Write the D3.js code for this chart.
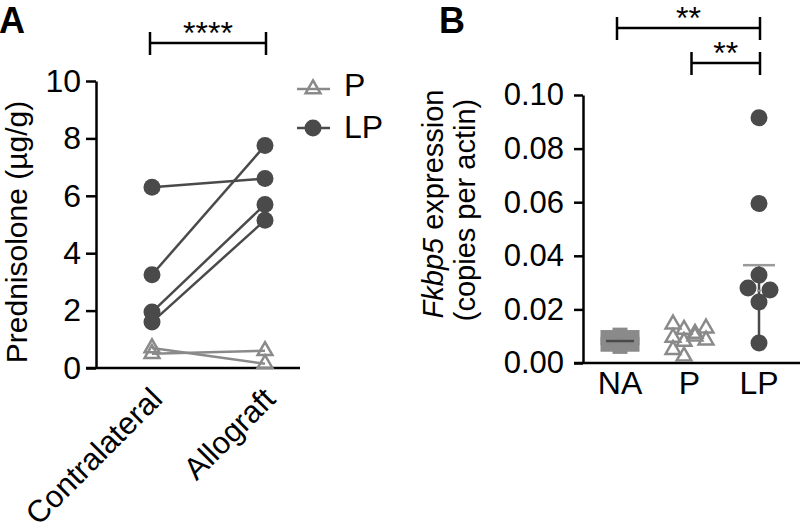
<!DOCTYPE html>
<html>
<head>
<meta charset="utf-8">
<script src="https://cdnjs.cloudflare.com/ajax/libs/d3/7.8.5/d3.min.js"></script>
<style>
  body { margin: 0; background: #fff; }
  svg { display: block; font-family: "Liberation Sans", Arial, sans-serif; }
</style>
</head>
<body>
<div id="chart"></div>
<script>
// panel A: prednisolone in tissue, paired
var sidesA = ["Contralateral", "Allograft"];
var lpContra = [6.3, 3.25, 1.95, 1.6];
var lpAllo = [6.6, 7.75, 5.7, 5.15];
var pContra = [0.7, 0.5];
var pAllo = [0.15, 0.6];
var ticksA = [0, 2, 4, 6, 8, 10];

// panel B: Fkbp5 expression
var groupsB = ["NA", "P", "LP"];
var naValues = [0.0095, 0.0104, 0.0095, 0.0070, 0.0062, 0.0070];
var pValues = [0.0145, 0.0125, 0.0110, 0.0130, 0.0095, 0.0080, 0.0100, 0.0085, 0.0050, 0.0025];
var lpValues = [0.0915, 0.0595, 0.0328, 0.0280, 0.0272, 0.0228, 0.0075];
var naMean = 0.0082;
var lpMid = 0.027, lpHigh = 0.0365, lpLow = 0.0075;
var ticksB = [0, 0.02, 0.04, 0.06, 0.08, 0.10];

var width = 800, height = 532;
var dark = "#4a4a4a", light = "#8a8a8a";

var svg = d3.select("#chart").append("svg")
    .attr("width", width)
    .attr("height", height);

function styleAxis(g, size) {
    g.selectAll("path, line").attr("stroke", "#000").attr("stroke-width", 2.5);
    g.selectAll("text").attr("fill", "#000").style("font-size", size + "px");
}

function sigBar(x1, x2, y, label) {
    var g = svg.append("g").attr("stroke", "#000").attr("stroke-width", 2.5);
    g.append("line").attr("x1", x1).attr("x2", x2).attr("y1", y).attr("y2", y);
    g.append("line").attr("x1", x1).attr("x2", x1).attr("y1", y - 11).attr("y2", y + 12);
    g.append("line").attr("x1", x2).attr("x2", x2).attr("y1", y - 11).attr("y2", y + 12);
    svg.append("text")
        .attr("x", (x1 + x2) / 2)
        .attr("y", y + 1)
        .attr("text-anchor", "middle")
        .style("font-size", "32px")
        .text(label);
}

// simple beeswarm: first free slot 0, -step, +step, ... per point
function swarm(values, y, minDist, step) {
    var placed = [];
    return values.map(function(v) {
        var py = y(v);
        for (var k = 0; k < 20; k++) {
            var off = k == 0 ? 0 : (k % 2 ? -1 : 1) * Math.ceil(k / 2) * step;
            var ok = placed.every(function(p) {
                return Math.hypot(p[0] - off, p[1] - py) >= minDist;
            });
            if (ok) break;
        }
        placed.push([off, py]);
        return off;
    });
}

// ---------- panel A ----------
var yA = d3.scaleLinear().domain([0, 10]).range([368, 81]);
var xA = d3.scalePoint().domain(sidesA).range([152, 265]);

svg.append("text").attr("x", -1).attr("y", 33)
    .style("font-size", "36px").style("font-weight", "bold").text("A");

svg.append("g")
    .attr("transform", "translate(96,0)")
    .call(d3.axisLeft(yA).tickValues(ticksA).tickSize(10).tickPadding(5).tickSizeOuter(0).tickFormat(d3.format("d")))
    .call(styleAxis, 32);

svg.append("line")
    .attr("x1", 86).attr("x2", 300).attr("y1", yA(0)).attr("y2", yA(0))
    .attr("stroke", "#000").attr("stroke-width", 2.5);

svg.selectAll(".xlabA")
    .data(sidesA)
    .enter().append("text")
    .attr("transform", function(d) { return "translate(" + (xA(d) + 12) + ",401) rotate(-45)"; })
    .attr("text-anchor", "end")
    .style("font-size", "31px")
    .text(function(d) { return d; });

svg.append("text")
    .attr("transform", "translate(27,232) rotate(-90)")
    .attr("text-anchor", "middle")
    .style("font-size", "30px")
    .text("Prednisolone (\u00b5g/g)");

var triangle = d3.symbol().type(d3.symbolTriangle).size(95);

// P pairs
pContra.forEach(function(v, i) {
    svg.append("line")
        .attr("x1", xA(sidesA[0])).attr("y1", yA(v))
        .attr("x2", xA(sidesA[1])).attr("y2", yA(pAllo[i]))
        .attr("stroke", light).attr("stroke-width", 2.5);
});
pContra.concat(pAllo).forEach(function(v, i) {
    svg.append("path")
        .attr("d", triangle)
        .attr("transform", "translate(" + xA(sidesA[i < pContra.length ? 0 : 1]) + "," + yA(v) + ")")
        .attr("fill", "none").attr("stroke", light).attr("stroke-width", 2.5);
});

// LP pairs
lpContra.forEach(function(v, i) {
    svg.append("line")
        .attr("x1", xA(sidesA[0])).attr("y1", yA(v))
        .attr("x2", xA(sidesA[1])).attr("y2", yA(lpAllo[i]))
        .attr("stroke", dark).attr("stroke-width", 2.5);
});
svg.selectAll(".lpA")
    .data(lpContra.map(function(v) { return [sidesA[0], v]; })
        .concat(lpAllo.map(function(v) { return [sidesA[1], v]; })))
    .enter().append("circle")
    .attr("cx", function(d) { return xA(d[0]); })
    .attr("cy", function(d) { return yA(d[1]); })
    .attr("r", 8.5)
    .attr("fill", dark);

sigBar(xA(sidesA[0]) - 2, xA(sidesA[1]) + 1, 43, "****");

// legend
var legend = svg.append("g");
legend.append("line").attr("x1", 297).attr("x2", 330).attr("y1", 89).attr("y2", 89)
    .attr("stroke", light).attr("stroke-width", 2.5);
legend.append("path").attr("d", triangle).attr("transform", "translate(313,89)")
    .attr("fill", "none").attr("stroke", light).attr("stroke-width", 2.5);
legend.append("text").attr("x", 344).attr("y", 96).style("font-size", "32px").text("P");
legend.append("line").attr("x1", 297).attr("x2", 330).attr("y1", 128).attr("y2", 128)
    .attr("stroke", dark).attr("stroke-width", 2.5);
legend.append("circle").attr("cx", 313).attr("cy", 128).attr("r", 8.5).attr("fill", dark);
legend.append("text").attr("x", 344).attr("y", 138).style("font-size", "32px").text("LP");

// ---------- panel B ----------
var yB = d3.scaleLinear().domain([0, 0.1]).range([363, 95]);
var xB = d3.scalePoint().domain(groupsB).range([620, 759]);

svg.append("text").attr("x", 439).attr("y", 33)
    .style("font-size", "36px").style("font-weight", "bold").text("B");

svg.append("g")
    .attr("transform", "translate(583,0)")
    .call(d3.axisLeft(yB).tickValues(ticksB).tickSize(9).tickPadding(10).tickSizeOuter(0).tickFormat(d3.format(".2f")))
    .call(styleAxis, 31);

svg.append("line")
    .attr("x1", 574).attr("x2", 800).attr("y1", yB(0)).attr("y2", yB(0))
    .attr("stroke", "#000").attr("stroke-width", 2.5);

svg.selectAll(".xlabB")
    .data(groupsB)
    .enter().append("text")
    .attr("x", function(d) { return xB(d); })
    .attr("y", 394)
    .attr("text-anchor", "middle")
    .style("font-size", "32px")
    .text(function(d) { return d; });

var titleB = svg.append("text")
    .attr("transform", "translate(443,204) rotate(-90)")
    .attr("text-anchor", "middle")
    .style("font-size", "29px");
titleB.append("tspan").style("font-style", "italic").text("Fkbp5");
titleB.append("tspan").text(" expression");
svg.append("text")
    .attr("transform", "translate(475,210) rotate(-90)")
    .attr("text-anchor", "middle")
    .style("font-size", "29px")
    .text("(copies per actin)");

function spread(i, cols, step) {
    return ((i % cols) - (cols - 1) / 2) * step;
}

// NA squares
svg.selectAll(".na")
    .data(naValues)
    .enter().append("rect")
    .attr("x", function(d, i) { return xB("NA") + spread(i, 3, 12) - 7.5; })
    .attr("y", function(d) { return yB(d) - 7.5; })
    .attr("width", 15).attr("height", 15)
    .attr("fill", light);
svg.append("line")
    .attr("x1", xB("NA") - 14).attr("x2", xB("NA") + 14)
    .attr("y1", yB(naMean)).attr("y2", yB(naMean))
    .attr("stroke", dark).attr("stroke-width", 2.5);

// P triangles
svg.selectAll(".pB")
    .data(pValues)
    .enter().append("path")
    .attr("d", triangle)
    .attr("transform", function(d, i) { return "translate(" + (xB("P") + spread(i, 4, 11)) + "," + yB(d) + ")"; })
    .attr("fill", "none").attr("stroke", light).attr("stroke-width", 2.5);

// LP circles with range bar
var lpOffsets = swarm(lpValues, yB, 15, 11);
svg.append("line")
    .attr("x1", xB("LP")).attr("x2", xB("LP"))
    .attr("y1", yB(lpLow)).attr("y2", yB(lpHigh))
    .attr("stroke", dark).attr("stroke-width", 2.5);
svg.selectAll(".lpB")
    .data(lpValues)
    .enter().append("circle")
    .attr("cx", function(d, i) { return xB("LP") + lpOffsets[i]; })
    .attr("cy", function(d) { return yB(d); })
    .attr("r", 8.5)
    .attr("fill", dark);
svg.append("line")
    .attr("x1", xB("LP") - 16).attr("x2", xB("LP") + 16)
    .attr("y1", yB(lpHigh)).attr("y2", yB(lpHigh))
    .attr("stroke", "#9a9a9a").attr("stroke-width", 2.5);
svg.append("line")
    .attr("x1", xB("LP") - 2).attr("x2", xB("LP") + 2)
    .attr("y1", yB(lpMid)).attr("y2", yB(lpMid))
    .attr("stroke", "#9a9a9a").attr("stroke-width", 2);

sigBar(xB("NA") - 3, xB("LP") + 1, 28, "**");
sigBar(xB("P") + 2, xB("LP") + 1, 63, "**");
</script>
</body>
</html>
